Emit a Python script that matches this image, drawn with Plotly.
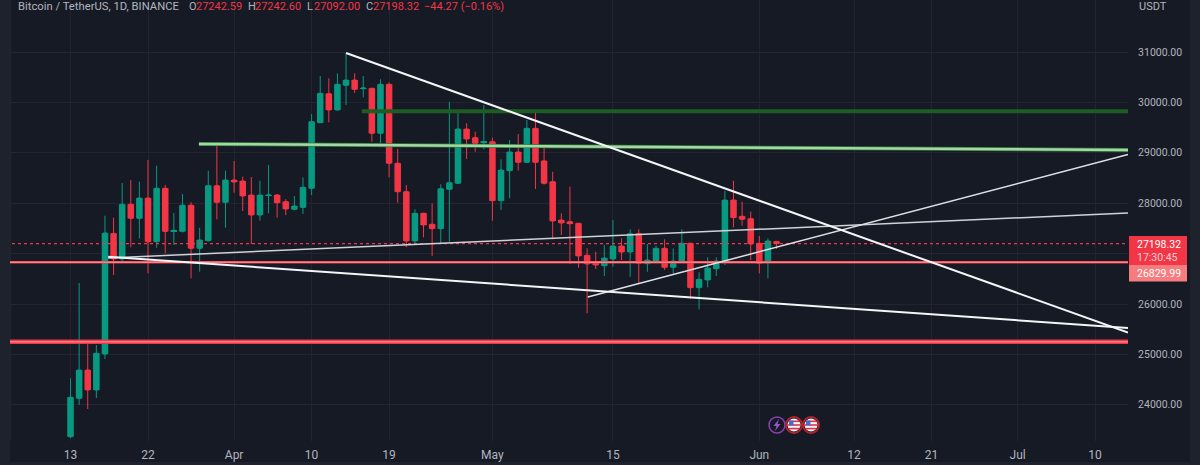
import math

import pandas as pd
import plotly.graph_objects as go

FIRST_DAY = "2023-03-13"

opens = [23367, 24129, 24691, 24294, 25008, 27400, 26893, 27978, 27700, 28103, 27236, 28296, 27442, 27442, 27959,
         27105, 27256, 28347, 28018, 28460, 28441, 28163, 27766, 28150, 28163, 28030, 27879, 27917, 28296, 29597,
         30173, 29849, 30339, 30444, 30272, 30280, 29387, 30359, 28792, 28228, 27250, 27800, 27582, 27495, 28276,
         28395, 29472, 29300, 29200, 29220, 28050, 28645, 29016, 28812, 29486, 28840, 28427, 27667, 27633, 27601,
         26967, 26800, 26760, 26893, 27151, 27032, 27395, 26800, 26853, 27105, 26728, 26840, 27205, 26324, 26477,
         26700, 26853, 28064, 27740, 27693, 27205, 26820, 27242.59]
highs = [24526, 26417, 25227, 25187, 27752, 27713, 28401, 28460, 28427, 28857, 28744, 28361, 27806, 28183, 28018,
         27514, 28645, 29155, 28645, 28837, 28526, 28520, 28447, 28758, 28183, 28078, 28143, 28514, 29770, 30524,
         30478, 30577, 30980, 30577, 30524, 30290, 30458, 30399, 29076, 28361, 27879, 27810, 27998, 28375, 30014,
         29863, 29585, 29419, 29948, 29300, 28871, 29254, 29373, 29651, 29796, 29120, 28625, 27800, 28328, 27610,
         27105, 27038, 27171, 27667, 27304, 27482, 27482, 27191, 27151, 27284, 27105, 27482, 27215, 26630, 26927,
         26927, 28248, 28447, 28030, 27832, 27349, 27304, 27242.60]
lows = [23340, 23997, 23917, 24135, 24909, 26576, 26840, 27125, 27303, 26609, 27117, 27006, 27171, 27420, 26510,
        26641, 27240, 27681, 27514, 28209, 27846, 27191, 27653, 27800, 27713, 27766, 27870, 27786, 28163, 29597,
        29605, 29840, 29948, 30192, 30101, 29220, 29109, 28514, 28010, 27125, 27171, 27324, 26953, 27205, 27236,
        28383, 28877, 29022, 29070, 27653, 27865, 28097, 28645, 28800, 28282, 28370, 27284, 27369, 26794, 26720,
        25816, 26695, 26556, 26740, 26873, 26542, 26411, 26641, 26840, 26675, 26609, 26830, 26100, 25895, 26332,
        26556, 26774, 27522, 27554, 26873, 26609, 26510, 27092.00]
closes = [24149, 24691, 24294, 25022, 27409, 26893, 27978, 27700, 28103, 27236, 28296, 27442, 27461, 27959, 27105,
          27270, 28347, 28018, 28460, 28421, 28143, 27766, 28163, 28163, 28010, 27885, 27945, 28316, 29617, 30180,
          29849, 30359, 30444, 30260, 30286, 29387, 30359, 28792, 28228, 27250, 27800, 27568, 27495, 28288, 28407,
          29472, 29274, 29189, 29220, 28050, 28659, 29016, 28812, 29486, 28812, 28395, 27647, 27607, 27594, 26953,
          26794, 26775, 26913, 27151, 27032, 27395, 26808, 26873, 27105, 26728, 26853, 27205, 26324, 26490, 26715,
          26853, 28064, 27713, 27681, 27191, 26808, 27250, 27198.32]
dates = pd.date_range(FIRST_DAY, periods=len(opens), freq="D")

LINE_END = "2023-07-13 19:40"
LINE_START = "2023-03-04 19:26"

falling_x = ["2023-04-14", LINE_END]
falling_y = [30980, 25435]
lower_x = ["2023-03-17 09:00", LINE_END]
lower_y = [26939, 25524]
upper_x = ["2023-03-17 09:00", LINE_END]
upper_y = [26913, 27806]
rising_x = ["2023-05-12 02:00", LINE_END]
rising_y = [26139, 28968]
dark_green_x = ["2023-04-15 20:00", LINE_END]
dark_green_y = [29823, 29823]
light_green_x = ["2023-03-27 22:00", LINE_END]
light_green_y = [29175, 29056]
support_x = [LINE_START, LINE_END]
support_y = [26829.99, 26829.99]
floor_x = [LINE_START, LINE_END]
floor_y = [25252, 25252]
last_x = [LINE_START, LINE_END]
last_y = [27198.32, 27198.32]

price_ticks = [24000, 25000, 26000, 27000, 28000, 29000, 30000, 31000]
price_labels = ["24000.00", "25000.00", "26000.00", "", "28000.00", "29000.00", "30000.00", "31000.00"]
date_ticks = ["2023-03-06", "2023-03-13", "2023-03-22", "2023-04-01", "2023-04-10", "2023-04-19", "2023-05-01",
              "2023-05-15", "2023-06-01", "2023-06-12", "2023-06-21", "2023-07-01", "2023-07-10"]
date_labels = ["", "13", "22", "Apr", "10", "19", "May", "15", "Jun", "12", "21", "Jul", "10"]

BG = "#161a25"
EDGE = "#1e222d"
GRID = "#222530"
TEXT = "#b2b5be"
UP = "#089981"
DOWN = "#f23645"
PALE_DOWN = "#f77c80"
FONT = "Roboto"

PLOT_W = 1128
PLOT_H = 441
DAY_MS = 86400000


def px(x):
    return x / PLOT_W


def py(y):
    return 1 - y / PLOT_H


def line_trace(x, y, color, width, dash=None):
    return go.Scatter(x=x, y=y, mode="lines", line=dict(color=color, width=width, dash=dash),
                      hoverinfo="skip", showlegend=False)


def label(x, y, text, color=TEXT, size=11.25, anchor="left"):
    return dict(xref="paper", yref="paper", x=px(x), y=py(y), text=text, showarrow=False, xanchor=anchor,
                yanchor="middle", align="left", borderpad=0, font=dict(family=FONT, size=size, color=color))


def paper_rect(x0, y0, x1, y1, fill, line=None, width=0):
    return dict(type="rect", xref="paper", yref="paper", x0=px(x0), x1=px(x1), y0=py(y0), y1=py(y1),
                fillcolor=fill, line=dict(color=line or fill, width=width), layer="above")


def paper_circle(cx, cy, r, fill, line, width):
    return dict(type="circle", xref="paper", yref="paper", x0=px(cx - r), x1=px(cx + r), y0=py(cy - r),
                y1=py(cy + r), fillcolor=fill, line=dict(color=line, width=width), layer="above")


def flag_icon(cx, cy):
    r = 6.5
    shapes = [paper_circle(cx, cy, r, "#f4f4f6", "#f4f4f6", 0)]
    for off in (-4.5, -0.8, 2.8):
        half = math.sqrt(max(r ** 2 - (off + 0.8) ** 2, 0))
        shapes.append(paper_rect(cx - half, cy + off, cx + half, cy + off + 1.6, "#d9354a"))
    shapes.append(paper_rect(cx - 5, cy - 4.5, cx - 0.5, cy + 0.3, "#3f6fd0"))
    shapes.append(paper_circle(cx, cy, 8, "rgba(0,0,0,0)", "#b0222f", 2))
    return shapes


fig = go.Figure()
# candlestick bodies come out narrower than the reference and boxgap has no effect, so widen them with bars
fig.add_trace(go.Bar(
    x=dates,
    base=[min(o, c) for o, c in zip(opens, closes)],
    y=[abs(c - o) for o, c in zip(opens, closes)],
    width=0.76 * DAY_MS,
    marker=dict(color=[UP if c >= o else DOWN for o, c in zip(opens, closes)], line=dict(width=0)),
    hoverinfo="skip", showlegend=False,
))
fig.add_trace(go.Candlestick(
    x=dates, open=opens, high=highs, low=lows, close=closes,
    increasing=dict(line=dict(color=UP, width=1), fillcolor=UP),
    decreasing=dict(line=dict(color=DOWN, width=1), fillcolor=DOWN),
    whiskerwidth=0, hoverinfo="skip", showlegend=False,
))

fig.add_trace(line_trace(last_x, last_y, "#f2364a", 1.2, "dot"))
fig.add_trace(line_trace(dark_green_x, dark_green_y, "#1d5c22", 4))
fig.add_trace(line_trace(light_green_x, light_green_y, "#2e7d32", 4))
fig.add_trace(line_trace(light_green_x, light_green_y, "#a5d6a7", 2.5))
fig.add_trace(line_trace(support_x, support_y, DOWN, 2.5))
fig.add_trace(line_trace(support_x, support_y, "#ffa8a8", 1))
fig.add_trace(line_trace(floor_x, floor_y, DOWN, 4.5))
fig.add_trace(line_trace(floor_x, floor_y, "#ff7f8a", 1.5))
fig.add_trace(line_trace(upper_x, upper_y, "#cfd2d8", 1.5))
fig.add_trace(line_trace(rising_x, rising_y, "#dfe1e6", 1.5))
fig.add_trace(line_trace(lower_x, lower_y, "#f4f5f7", 2))
fig.add_trace(line_trace(falling_x, falling_y, "#f4f5f7", 2))

shapes = [
    paper_rect(0, 0, 10, 465, EDGE),
    paper_rect(1190, 0, 1200, 465, EDGE),
    paper_rect(0, 462, 1200, 465, EDGE),
    paper_rect(1129, 236, 1187, 265, DOWN),
    paper_rect(1129, 265, 1187, 281.5, PALE_DOWN),
    paper_circle(777, 425, 8, "rgba(0,0,0,0)", "#8d3fb5", 1.5),
    dict(type="path", xref="paper", yref="paper", layer="above", fillcolor="#a04fd0",
         line=dict(color="#a04fd0", width=0),
         path=f"M {px(779)} {py(419)} L {px(773.5)} {py(426)} L {px(776.5)} {py(426)} L {px(775)} {py(431)} "
              f"L {px(780.5)} {py(424)} L {px(777.5)} {py(424)} Z"),
]
shapes += flag_icon(794, 425)
shapes += flag_icon(811, 425)

annotations = [
    label(17, 7, "Bitcoin / TetherUS, 1D, BINANCE"),
    label(1138, 6, "USDT", TEXT, 11),
    label(1136.5, 244, "27198.32", "#ffffff", 10.5),
    label(1136.5, 257.5, "17:30:45", "#ffd0d4", 10.5),
    label(1136.5, 273, "26829.99", "#ffffff", 10.5),
]
ohlc = [(188, "O", 195, "27242.59"), (247, "H", 254, "27242.60"), (306, "L", 313, "27092.00"),
        (365, "C", 372, "27198.32")]
for lx, letter, vx, val in ohlc:
    annotations.append(label(lx, 7, letter, TEXT, 11))
    annotations.append(label(vx, 7, val, DOWN, 11))
annotations.append(label(423, 7, "\u221244.27 (\u22120.16%)", DOWN, 11))

fig.update_layout(
    width=1200, height=465,
    margin=dict(l=0, r=72, t=0, b=24),
    paper_bgcolor=BG, plot_bgcolor=BG,
    font=dict(family=FONT, color=TEXT, size=11),
    showlegend=False,
    barmode="overlay",
    shapes=shapes,
    annotations=annotations,
    xaxis=dict(
        type="date", range=[LINE_START, LINE_END], rangeslider=dict(visible=False),
        tickmode="array", tickvals=date_ticks, ticktext=date_labels,
        showgrid=True, gridcolor=GRID, gridwidth=1, zeroline=False, showline=False,
        ticks="outside", ticklen=3, tickcolor=BG, tickfont=dict(family=FONT, size=12, color=TEXT),
    ),
    yaxis=dict(
        side="right", range=[23282, 32032], tickmode="array", tickvals=price_ticks, ticktext=price_labels,
        showgrid=True, gridcolor=GRID, gridwidth=1, zeroline=False, showline=False,
        ticks="outside", ticklen=7, tickcolor=BG, tickfont=dict(family=FONT, size=10.5, color=TEXT),
    ),
)

fig.write_html(
    "out.html",
    config=dict(displayModeBar=False),
    post_script="document.body.style.margin='0';document.body.style.background='#161a25';",
)
